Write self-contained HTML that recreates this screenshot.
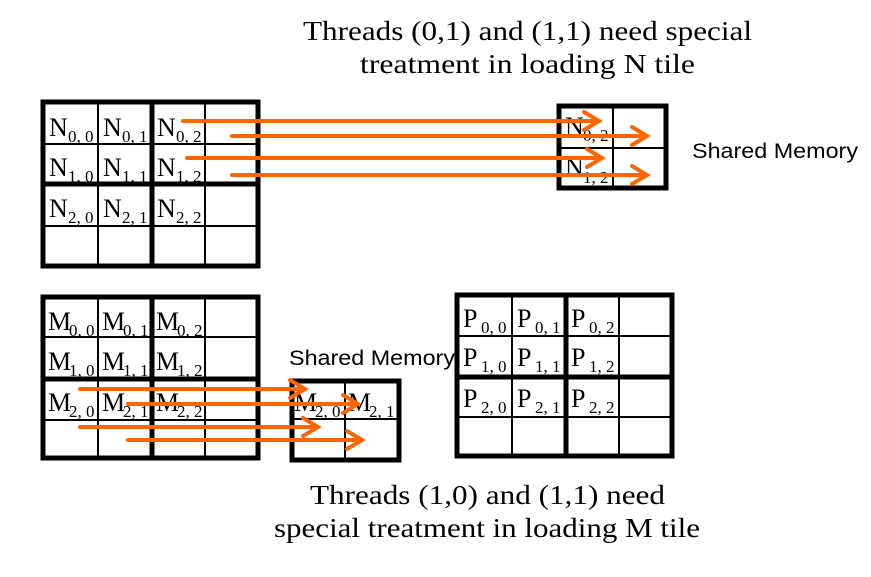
<!DOCTYPE html>
<html><head><meta charset="utf-8"><style>body{margin:0;background:#fff}svg{display:block}</style></head><body>
<svg width="871" height="577" viewBox="0 0 871 577" xmlns="http://www.w3.org/2000/svg">
<g font-family="Liberation Serif, serif" font-size="27" fill="#000">
<text x="303" y="40" textLength="449" lengthAdjust="spacingAndGlyphs">Threads (0,1) and (1,1) need special</text>
<text x="360" y="73" textLength="335" lengthAdjust="spacingAndGlyphs">treatment in loading N tile</text>
<text x="310" y="504" textLength="355" lengthAdjust="spacingAndGlyphs">Threads (1,0) and (1,1) need</text>
<text x="274" y="537" textLength="426" lengthAdjust="spacingAndGlyphs">special treatment in loading M tile</text>
</g>
<g font-family="Liberation Sans, sans-serif" font-size="21" fill="#000">
<text x="692" y="158" textLength="166" lengthAdjust="spacingAndGlyphs">Shared Memory</text>
<text x="289" y="365" textLength="166" lengthAdjust="spacingAndGlyphs">Shared Memory</text>
</g>
<g stroke="#000" fill="none">
<g stroke-width="2"><line x1="98" y1="102" x2="98" y2="266"/><line x1="205" y1="102" x2="205" y2="266"/><line x1="43" y1="144" x2="258" y2="144"/><line x1="43" y1="226" x2="258" y2="226"/></g>
<g stroke-width="5"><rect x="43" y="102" width="215" height="164"/><line x1="152" y1="102" x2="152" y2="266"/><line x1="43" y1="184" x2="258" y2="184"/></g>
<g stroke-width="2"><line x1="98" y1="297" x2="98" y2="458"/><line x1="205" y1="297" x2="205" y2="458"/><line x1="43" y1="337" x2="258" y2="337"/><line x1="43" y1="420" x2="258" y2="420"/></g>
<g stroke-width="5"><rect x="43" y="297" width="215" height="161"/><line x1="152" y1="297" x2="152" y2="458"/><line x1="43" y1="379" x2="258" y2="379"/></g>
<g stroke-width="2"><line x1="512" y1="295" x2="512" y2="456"/><line x1="619" y1="295" x2="619" y2="456"/><line x1="457" y1="336" x2="672" y2="336"/><line x1="457" y1="417" x2="672" y2="417"/></g>
<g stroke-width="5"><rect x="457" y="295" width="215" height="161"/><line x1="566" y1="295" x2="566" y2="456"/><line x1="457" y1="377" x2="672" y2="377"/></g>
<g stroke-width="2"><line x1="613" y1="106" x2="613" y2="188"/><line x1="558" y1="148" x2="666" y2="148"/></g>
<rect x="559" y="106" width="107" height="82" stroke-width="5"/>
<g stroke-width="2"><line x1="345" y1="380" x2="345" y2="460"/><line x1="291" y1="419" x2="399" y2="419"/></g>
<rect x="292" y="381" width="107" height="79" stroke-width="5"/>
</g>
<g font-family="Liberation Serif, serif" fill="#000">
<g font-size="26">
<text x="49" y="136">N</text><text x="103" y="136">N</text><text x="157" y="136">N</text>
<text x="49" y="176">N</text><text x="103" y="176">N</text><text x="157" y="176">N</text>
<text x="49" y="217">N</text><text x="103" y="217">N</text><text x="157" y="217">N</text>
<text x="565" y="135">N</text><text x="565" y="176">N</text>
<text x="48" y="330">M</text><text x="102" y="330">M</text><text x="156" y="330">M</text>
<text x="48" y="370">M</text><text x="102" y="370">M</text><text x="156" y="370">M</text>
<text x="48" y="411">M</text><text x="102" y="411">M</text><text x="156" y="411">M</text>
<text x="294" y="411">M</text><text x="348" y="411">M</text>
<text x="463" y="327">P</text><text x="517" y="327">P</text><text x="571" y="327">P</text>
<text x="463" y="366">P</text><text x="517" y="366">P</text><text x="571" y="366">P</text>
<text x="463" y="407">P</text><text x="517" y="407">P</text><text x="571" y="407">P</text>
</g>
<g font-size="17">
<text x="68" y="142">0, 0</text><text x="122" y="142">0, 1</text><text x="176" y="142">0, 2</text>
<text x="68" y="182">1, 0</text><text x="122" y="182">1, 1</text><text x="176" y="182">1, 2</text>
<text x="68" y="223">2, 0</text><text x="122" y="223">2, 1</text><text x="176" y="223">2, 2</text>
<text x="583" y="141">0, 2</text><text x="583" y="183">1, 2</text>
<text x="69" y="336">0, 0</text><text x="123" y="336">0, 1</text><text x="177" y="336">0, 2</text>
<text x="69" y="376">1, 0</text><text x="123" y="376">1, 1</text><text x="177" y="376">1, 2</text>
<text x="69" y="417">2, 0</text><text x="123" y="417">2, 1</text><text x="177" y="417">2, 2</text>
<text x="315" y="417">2, 0</text><text x="369" y="417">2, 1</text>
<text x="481" y="333">0, 0</text><text x="535" y="333">0, 1</text><text x="589" y="333">0, 2</text>
<text x="481" y="372">1, 0</text><text x="535" y="372">1, 1</text><text x="589" y="372">1, 2</text>
<text x="481" y="413">2, 0</text><text x="535" y="413">2, 1</text><text x="589" y="413">2, 2</text>
</g>
</g>
<g stroke="#ff6600" stroke-width="4" fill="none" stroke-linecap="round">
<line x1="183" y1="121" x2="598" y2="121"/><polyline points="584,112 599,121 584,130"/>
<line x1="232" y1="136" x2="646" y2="136"/><polyline points="632,127 647,136 632,145"/>
<line x1="187" y1="158" x2="601" y2="158"/><polyline points="587,149 602,158 587,167"/>
<line x1="232" y1="175" x2="646" y2="175"/><polyline points="632,166 647,175 632,184"/>
<line x1="80" y1="389" x2="304" y2="389"/><polyline points="290,380 305,389 290,398"/>
<line x1="128" y1="404" x2="357" y2="404"/><polyline points="343,395 358,404 343,413"/>
<line x1="80" y1="427" x2="317" y2="427"/><polyline points="303,418 318,427 303,436"/>
<line x1="128" y1="440" x2="361" y2="440"/><polyline points="347,431 362,440 347,449"/>
</g>
</svg>
</body></html>
